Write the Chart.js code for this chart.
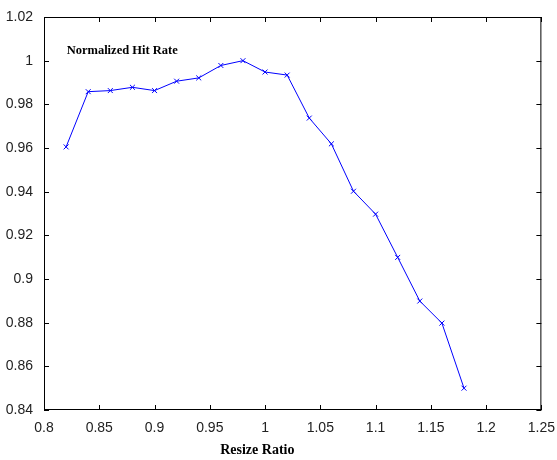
<!DOCTYPE html>
<html>
<head>
<meta charset="utf-8">
<script src="https://cdn.jsdelivr.net/npm/chart.js@4"></script>
<style>
  html, body { margin: 0; padding: 0; background: #fff; }
  #wrap { width: 557px; height: 460px; }
</style>
</head>
<body>
<div id="wrap"><canvas id="hit-rate-chart"></canvas></div>
<script>
var resizeRatio = [0.82, 0.84, 0.86, 0.88, 0.90, 0.92, 0.94, 0.96, 0.98, 1.00,
                   1.02, 1.04, 1.06, 1.08, 1.10, 1.12, 1.14, 1.16, 1.18];
var hitRate = [0.9605, 0.9858, 0.9863, 0.9878, 0.9863, 0.9906, 0.9921, 0.9978, 1.0000, 0.9948,
               0.9934, 0.9737, 0.9619, 0.9402, 0.9297, 0.9099, 0.8899, 0.8798, 0.8500];
var xTicks = [0.8, 0.85, 0.9, 0.95, 1, 1.05, 1.1, 1.15, 1.2, 1.25];
var yTicks = [0.84, 0.86, 0.88, 0.9, 0.92, 0.94, 0.96, 0.98, 1, 1.02];

var points = resizeRatio.map(function (x, i) { return { x: x, y: hitRate[i] }; });

var tickFont = { family: "'Liberation Sans', Arial, sans-serif", size: 14 };
var serifBold = "'Liberation Serif', 'Times New Roman', serif";

// box + inward ticks on all four sides, the in-plot label and the x label
var matlabBox = {
  id: 'matlabBox',
  afterDraw: function (chart) {
    var ctx = chart.ctx, a = chart.chartArea;
    var xs = chart.scales.x, ys = chart.scales.y;
    ctx.save();
    ctx.strokeStyle = '#000';
    ctx.lineWidth = 1;
    ctx.strokeRect(a.left + 0.5, a.top + 0.5, a.right - a.left - 1, a.bottom - a.top - 1);
    ctx.beginPath();
    xTicks.forEach(function (v) {
      var px = Math.round(xs.getPixelForValue(v)) + 0.5;
      ctx.moveTo(px, a.bottom); ctx.lineTo(px, a.bottom - 5);
      ctx.moveTo(px, a.top); ctx.lineTo(px, a.top + 5);
    });
    yTicks.forEach(function (v) {
      var py = Math.round(ys.getPixelForValue(v)) + 0.5;
      ctx.moveTo(a.left, py); ctx.lineTo(a.left + 5, py);
      ctx.moveTo(a.right, py); ctx.lineTo(a.right - 5, py);
    });
    ctx.stroke();

    ctx.fillStyle = '#000';
    ctx.textBaseline = 'middle';
    ctx.font = "bold 12.5px " + serifBold;
    ctx.fillText('Normalized Hit Rate', xs.getPixelForValue(0.8205), ys.getPixelForValue(1.0045));

    // MATLAB put the x label a bit left of the axis centre
    ctx.font = "bold 14px " + serifBold;
    ctx.textAlign = 'center';
    ctx.fillText('Resize Ratio', xs.getPixelForValue(0.993), a.bottom + 40);
    ctx.restore();
  }
};

var ctx = document.getElementById('hit-rate-chart').getContext('2d');
var chart = new Chart(ctx, {
  type: 'scatter',
  data: {
    datasets: [{
      data: points,
      showLine: true,
      borderColor: '#0000ff',
      backgroundColor: '#0000ff',
      borderWidth: 1,
      pointStyle: 'crossRot',
      pointRadius: 3.5,
      pointBorderWidth: 1,
      pointHoverRadius: 3.5
    }]
  },
  options: {
    responsive: true,
    maintainAspectRatio: false,
    animation: false,
    layout: { padding: { top: 17, right: 14, left: 0, bottom: 0 } },
    plugins: { legend: { display: false }, tooltip: { enabled: false } },
    scales: {
      x: {
        type: 'linear',
        min: 0.8, max: 1.25,
        afterBuildTicks: function (s) { s.ticks = xTicks.map(function (v) { return { value: v }; }); },
        ticks: {
          color: '#222', font: tickFont, padding: 2, maxRotation: 0,
          callback: function (v) { return String(+v.toFixed(2)); }
        },
        grid: { display: false },
        border: { display: false },
        afterFit: function (s) { s.height = 50; }
      },
      y: {
        min: 0.84, max: 1.02,
        afterBuildTicks: function (s) { s.ticks = yTicks.map(function (v) { return { value: v }; }); },
        ticks: {
          color: '#222', font: tickFont, padding: 3,
          callback: function (v) { return String(+v.toFixed(2)); }
        },
        grid: { display: false },
        border: { display: false },
        afterFit: function (s) { s.width = 44; }
      }
    }
  },
  plugins: [matlabBox]
});
</script>
</body>
</html>
